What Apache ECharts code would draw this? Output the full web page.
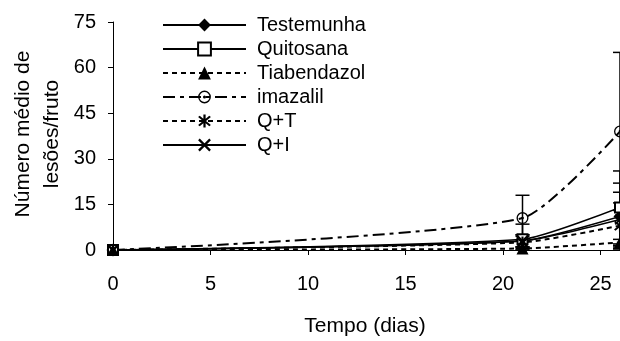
<!DOCTYPE html>
<html><head><meta charset="utf-8">
<script src="https://cdn.jsdelivr.net/npm/echarts@6/dist/echarts.min.js"></script>
<style>html,body{margin:0;padding:0;background:#fff}#c{width:620px;height:341px}</style>
</head><body><div id="c"></div>
<script>
const days = [0, 21, 26];
const seriesNames = ['Testemunha', 'Quitosana', 'Tiabendazol', 'imazalil', 'Q+T', 'Q+I'];
const testemunha = [0, 3, 11];
const quitosana = [0, 3.5, 14];
const tiabendazol = [0, 0.5, 2.5];
const imazalil = [0, 10.5, 39];
const qt = [0, 2.5, 8];
const qi = [0, 3, 10];
const errTestemunha = [0, 2, 11];
const errQuitosana = [0, 5, 12];
const errTiabendazol = [0, 0.5, 1];
const errImazalil = [0, 7.5, 26];
const errQt = [0, 2, 7.5];
const errQi = [0, 2, 9];
const xTicks = [0, 5, 10, 15, 20, 25];
const yTicks = [0, 15, 30, 45, 60, 75];

const values = [testemunha, quitosana, tiabendazol, imazalil, qt, qi];
const errors = [errTestemunha, errQuitosana, errTiabendazol, errImazalil, errQt, errQi];

const asterisk = 'path://M-0.8,-5.5L0.8,-5.5L0.8,5.5L-0.8,5.5Z M-3.43,-4.57L4.57,3.43L3.43,4.57L-4.57,-3.43Z M-4.57,3.43L3.43,-4.57L4.57,-3.43L-3.43,4.57Z';
const cross = 'path://M-3.43,-4.57L4.57,3.43L3.43,4.57L-4.57,-3.43Z M-4.57,3.43L3.43,-4.57L4.57,-3.43L-3.43,4.57Z';
const dotCircle = 'path://M0,-5A5,5 0 1,1 0,5A5,5 0 1,1 0,-5Z M0,-3.9A3.9,3.9 0 1,0 0,3.9A3.9,3.9 0 1,0 0,-3.9Z M0,-1.2A1.2,1.2 0 1,1 0,1.2A1.2,1.2 0 1,1 0,-1.2Z';

const styles = [
  {symbol: 'diamond', size: 13, line: {type: 'solid', width: 1.5}},
  {symbol: 'emptyRect', size: 10, line: {type: 'solid', width: 1.5}},
  {symbol: 'triangle', size: 12, line: {type: [5, 4], width: 2}},
  {symbol: dotCircle, size: 12, line: {type: [12, 5, 4, 5], width: 2}},
  {symbol: asterisk, size: 12, line: {type: [5, 4], width: 2}},
  {symbol: cross, size: 11, line: {type: 'solid', width: 1.5}}
];

const series = [];
seriesNames.forEach((name, i) => {
  series.push({
    name: name, type: 'line', smooth: 0.2,
    data: days.map((d, j) => [d, values[i][j]]),
    symbol: styles[i].symbol, symbolSize: styles[i].size,
    color: '#000',
    itemStyle: {color: '#000', borderWidth: 1.3},
    lineStyle: {color: '#000', width: styles[i].line.width, type: styles[i].line.type},
    z: 3
  });
  series.push({
    type: 'custom', name: name + '_err', silent: true, z: 2,
    data: days.map((d, j) => [d, values[i][j], errors[i][j]]),
    renderItem: function (params, api) {
      const x = api.value(0), y = api.value(1), e = api.value(2);
      if (!e) return null;
      const top = api.coord([x, y + e]);
      const bot = api.coord([x, Math.max(0, y - e)]);
      const w = 7;
      const st = {stroke: '#000', lineWidth: 1.5};
      return {type: 'group', children: [
        {type: 'line', shape: {x1: top[0], y1: top[1], x2: bot[0], y2: bot[1]}, style: st},
        {type: 'line', shape: {x1: top[0] - w, y1: top[1], x2: top[0] + w, y2: top[1]}, style: st},
        {type: 'line', shape: {x1: bot[0] - w, y1: bot[1], x2: bot[0] + w, y2: bot[1]}, style: st}
      ]};
    }
  });
});

const chart = echarts.init(document.getElementById('c'), null, {renderer: 'canvas'});
chart.setOption({
  animation: false,
  backgroundColor: '#fff',
  grid: {left: 113, top: 22, bottom: 91, right: 0, containLabel: false, outerBoundsMode: 'none'},
  legend: {
    data: seriesNames, orient: 'vertical', left: 162, top: 15, padding: 0,
    itemWidth: 83, itemHeight: 16, itemGap: 4,
    textStyle: {fontFamily: 'Liberation Sans', fontSize: 20, color: '#000', padding: [0, 0, 0, 6]},
    inactiveColor: '#000'
  },
  xAxis: {
    type: 'value', min: 0, max: 26,
    axisLine: {lineStyle: {color: '#000', width: 1}},
    axisTick: {show: true, length: 5, lineStyle: {color: '#000'}, customValues: xTicks},
    axisLabel: {fontFamily: 'Liberation Sans', fontSize: 20, color: '#000', margin: 24, customValues: xTicks},
    splitLine: {show: false}
  },
  yAxis: {
    type: 'value', min: 0, max: 75, interval: 15,
    axisLine: {show: true, lineStyle: {color: '#000', width: 1}},
    axisTick: {show: true, length: 5, lineStyle: {color: '#000'}},
    axisLabel: {fontFamily: 'Liberation Sans', fontSize: 20, color: '#000', margin: 17,
      formatter: v => yTicks.indexOf(v) >= 0 ? String(v) : ''},
    splitLine: {show: false}
  },
  graphic: [
    {type: 'text', x: 38, y: 134, rotation: Math.PI / 2, silent: true,
      style: {text: 'Número médio de\nlesões/fruto', fontFamily: 'Liberation Sans', fontSize: 21, lineHeight: 29, fill: '#000', align: 'center', verticalAlign: 'middle'}},
    {type: 'text', x: 365, y: 326, silent: true,
      style: {text: 'Tempo (dias)', fontFamily: 'Liberation Sans', fontSize: 21, fill: '#000', align: 'center', verticalAlign: 'middle'}}
  ],
  series: series
});
</script>
</body></html>
